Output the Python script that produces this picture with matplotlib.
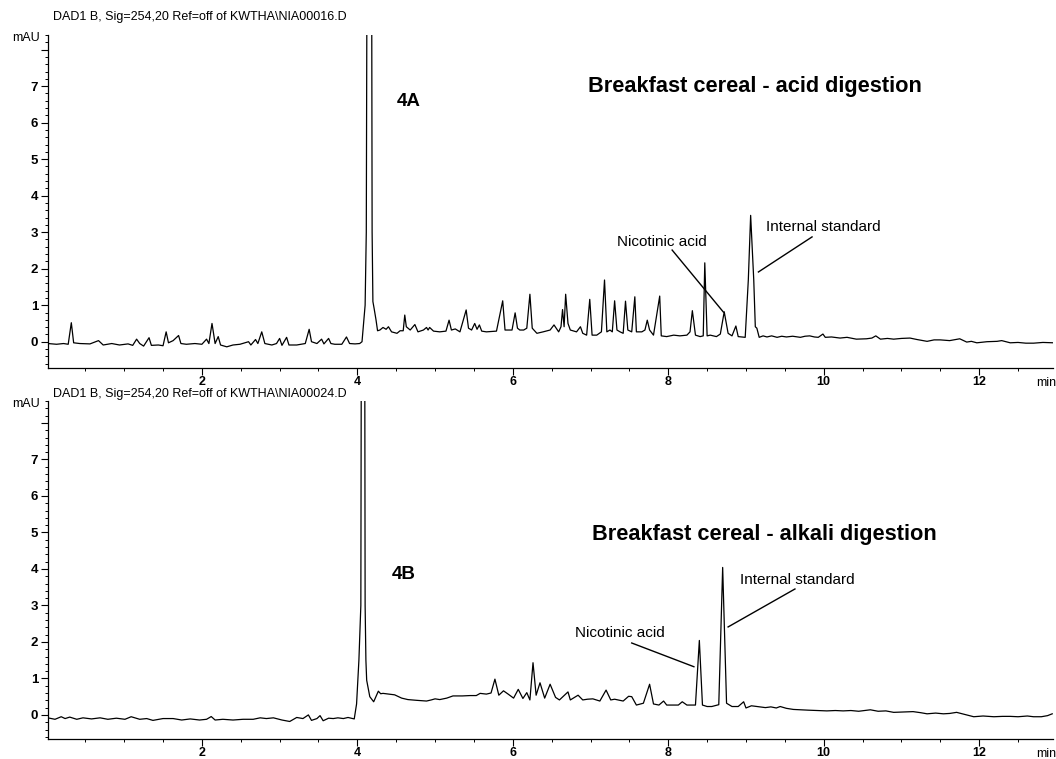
import matplotlib
matplotlib.use("Agg")
import matplotlib.pyplot as plt
from matplotlib.ticker import MultipleLocator

plt.rcParams['font.family'] = ['Liberation Sans', 'DejaVu Sans']

# Chromatogram 4A - acid digestion (time in min, signal in mAU)
acid_time = [
    0.02, 0.13, 0.22, 0.28, 0.32, 0.35, 0.43, 0.56, 0.67, 0.73, 0.84, 0.94, 1.05, 1.11,
    1.16, 1.20, 1.25, 1.32, 1.35, 1.44, 1.50, 1.54, 1.57, 1.63, 1.70, 1.73, 1.80, 1.91,
    2.00, 2.06, 2.09, 2.13, 2.17, 2.21, 2.24, 2.32, 2.40, 2.49, 2.60, 2.63, 2.69, 2.72,
    2.77, 2.81, 2.90, 2.96, 3.00, 3.03, 3.09, 3.12, 3.22, 3.33, 3.38, 3.41, 3.48, 3.54,
    3.57, 3.63, 3.66, 3.71, 3.80, 3.86, 3.90, 3.97, 4.03,
    4.06, 4.10, 4.115, 4.16, 4.19, 4.20, 4.215, 4.24, 4.26,
    4.29, 4.33, 4.37, 4.40, 4.44, 4.51, 4.55, 4.59, 4.61, 4.63, 4.68, 4.74, 4.78, 4.85,
    4.89, 4.91, 4.93, 4.98, 5.06, 5.14, 5.18, 5.21, 5.26, 5.32, 5.40, 5.43, 5.47, 5.51,
    5.54, 5.57, 5.60, 5.66, 5.79, 5.87, 5.90, 5.99, 6.03, 6.06, 6.09, 6.14, 6.18, 6.22,
    6.25, 6.31, 6.39, 6.48, 6.53, 6.59, 6.62, 6.64, 6.66, 6.68, 6.71, 6.74, 6.82, 6.87,
    6.90, 6.95, 6.99, 7.02, 7.08, 7.14, 7.18, 7.21, 7.25, 7.28, 7.31, 7.34, 7.38, 7.42,
    7.45, 7.48, 7.53, 7.57, 7.59, 7.66, 7.70, 7.73, 7.76, 7.81, 7.89, 7.91, 7.98, 8.07,
    8.15, 8.24, 8.28, 8.31, 8.35, 8.41, 8.45, 8.47, 8.50,
    8.54, 8.62, 8.67, 8.72, 8.77, 8.82, 8.87, 8.90, 8.99, 9.03, 9.06, 9.10, 9.12, 9.14,
    9.17, 9.22, 9.27, 9.33, 9.40, 9.46, 9.52, 9.60, 9.70, 9.76, 9.82, 9.88, 9.93, 9.99,
    10.02, 10.10, 10.21, 10.30, 10.42, 10.55, 10.62, 10.67, 10.73, 10.82, 10.90, 11.00,
    11.11, 11.20, 11.33, 11.42, 11.50, 11.62, 11.75, 11.84, 11.90, 11.97, 12.10, 12.23,
    12.29, 12.40, 12.50, 12.60, 12.70, 12.82, 12.96,
]
acid_mau = [
    -0.05, -0.07, -0.05, -0.07, 0.52, -0.03, -0.05, -0.06, 0.03, -0.09, -0.05, -0.09, -0.06, -0.10,
    0.07, -0.05, -0.12, 0.11, -0.10, -0.09, -0.11, 0.27, -0.03, 0.03, 0.17, -0.05, -0.07, -0.05,
    -0.07, 0.07, -0.05, 0.50, -0.05, 0.14, -0.09, -0.14, -0.09, -0.07, 0.00, -0.09, 0.06, -0.05,
    0.27, -0.05, -0.09, -0.05, 0.09, -0.10, 0.12, -0.09, -0.09, -0.05, 0.34, 0.00, -0.05, 0.07,
    -0.06, 0.09, -0.05, -0.07, -0.07, 0.13, -0.05, -0.06, -0.05,
    0.00, 1.00, 3.00, 40.0, 3.00, 1.10, 0.92, 0.60, 0.30,
    0.32, 0.39, 0.34, 0.41, 0.27, 0.23, 0.30, 0.30, 0.73, 0.41, 0.32, 0.47, 0.27, 0.32,
    0.39, 0.32, 0.39, 0.29, 0.27, 0.29, 0.59, 0.32, 0.35, 0.27, 0.87, 0.37, 0.32, 0.50,
    0.34, 0.46, 0.29, 0.27, 0.29, 1.12, 0.32, 0.32, 0.79, 0.37, 0.32, 0.32, 0.37, 1.30,
    0.37, 0.23, 0.27, 0.32, 0.46, 0.27, 0.41, 0.88, 0.41, 1.30, 0.50, 0.32, 0.27, 0.41,
    0.23, 0.18, 1.16, 0.18, 0.18, 0.27, 1.69, 0.27, 0.32, 0.27, 1.12, 0.32, 0.27, 0.23,
    1.11, 0.32, 0.27, 1.23, 0.27, 0.27, 0.32, 0.59, 0.32, 0.18, 1.25, 0.16, 0.14, 0.18,
    0.16, 0.18, 0.27, 0.85, 0.18, 0.14, 0.16, 2.16, 0.16,
    0.18, 0.14, 0.21, 0.82, 0.23, 0.16, 0.43, 0.14, 0.12, 1.69, 3.46, 1.69, 0.41, 0.37,
    0.12, 0.16, 0.13, 0.16, 0.12, 0.15, 0.13, 0.15, 0.12, 0.15, 0.16, 0.13, 0.12, 0.21,
    0.12, 0.13, 0.10, 0.12, 0.07, 0.08, 0.10, 0.16, 0.07, 0.09, 0.07, 0.09,
    0.10, 0.06, 0.01, 0.05, 0.05, 0.03, 0.08, -0.01, 0.01, -0.03, 0.00, 0.01,
    0.03, -0.03, -0.02, -0.04, -0.04, -0.02, -0.03,
]

# Chromatogram 4B - alkali digestion
alkali_time = [
    0.04, 0.11, 0.19, 0.24, 0.30, 0.39, 0.47, 0.58, 0.69, 0.79, 0.90, 1.01, 1.09, 1.20,
    1.29, 1.37, 1.50, 1.63, 1.74, 1.85, 1.97, 2.06, 2.12, 2.17, 2.27, 2.40, 2.53, 2.66,
    2.75, 2.83, 2.92, 3.03, 3.13, 3.22, 3.30, 3.37, 3.41, 3.48, 3.52, 3.56, 3.63, 3.69,
    3.75, 3.82, 3.88, 3.96,
    3.99, 4.02, 4.045, 4.075, 4.10, 4.11,
    4.12, 4.16, 4.21, 4.27, 4.30, 4.33, 4.40, 4.48, 4.53, 4.57, 4.65, 4.76, 4.89, 4.95,
    5.00, 5.06, 5.15, 5.23, 5.35, 5.45, 5.53, 5.58, 5.66, 5.72, 5.77, 5.82, 5.88, 5.94,
    6.01, 6.07, 6.13, 6.18, 6.22, 6.26, 6.30, 6.35, 6.41, 6.48, 6.55, 6.60, 6.71, 6.74,
    6.84, 6.90, 6.96, 7.03, 7.12, 7.20, 7.26, 7.31, 7.42, 7.49, 7.53, 7.59, 7.68, 7.76,
    7.81, 7.88, 7.94, 7.98, 8.13, 8.18, 8.24, 8.35, 8.40, 8.44, 8.50, 8.56, 8.65, 8.70,
    8.75, 8.82, 8.90, 8.97, 9.00, 9.07, 9.14, 9.20, 9.25, 9.32, 9.39, 9.44, 9.52, 9.61,
    9.70, 9.80, 9.92, 10.04, 10.15, 10.25, 10.35, 10.45, 10.52, 10.60, 10.70, 10.80,
    10.90, 11.02, 11.15, 11.25, 11.33, 11.44, 11.54, 11.62, 11.71, 11.80, 11.93, 12.05,
    12.19, 12.30, 12.40, 12.50, 12.62, 12.70, 12.80, 12.88, 12.94,
]
alkali_mau = [
    -0.09, -0.12, -0.05, -0.10, -0.06, -0.12, -0.08, -0.11, -0.08, -0.12, -0.09, -0.12, -0.05, -0.12,
    -0.10, -0.15, -0.10, -0.10, -0.14, -0.11, -0.14, -0.12, -0.045, -0.14, -0.12, -0.14, -0.12, -0.12,
    -0.08, -0.10, -0.08, -0.14, -0.18, -0.07, -0.10, 0.00, -0.15, -0.10, -0.02, -0.16, -0.09, -0.10,
    -0.08, -0.10, -0.07, -0.11,
    0.30, 1.50, 3.00, 40.0, 3.00, 1.50,
    0.95, 0.50, 0.36, 0.65, 0.58, 0.59, 0.57, 0.55, 0.50, 0.46, 0.42, 0.40, 0.38, 0.41,
    0.44, 0.42, 0.46, 0.52, 0.52, 0.53, 0.53, 0.59, 0.57, 0.60, 0.98, 0.54, 0.66, 0.57,
    0.46, 0.70, 0.45, 0.61, 0.41, 1.43, 0.54, 0.88, 0.46, 0.84, 0.48, 0.41, 0.63, 0.41,
    0.54, 0.41, 0.43, 0.44, 0.38, 0.68, 0.41, 0.43, 0.38, 0.51, 0.50, 0.27, 0.32, 0.84,
    0.30, 0.27, 0.38, 0.27, 0.27, 0.36, 0.27, 0.27, 2.04, 0.27, 0.23, 0.23, 0.28, 4.04,
    0.32, 0.23, 0.23, 0.36, 0.19, 0.25, 0.23, 0.21, 0.20, 0.22, 0.19, 0.23, 0.18, 0.15,
    0.14, 0.13, 0.12, 0.11, 0.12, 0.11, 0.12, 0.10, 0.12, 0.14, 0.10, 0.11,
    0.07, 0.08, 0.09, 0.06, 0.03, 0.05, 0.03, 0.04, 0.07, 0.02, -0.05, -0.03,
    -0.05, -0.04, -0.04, -0.05, -0.03, -0.05, -0.05, -0.02, 0.03,
]

headers = ["DAD1 B, Sig=254,20 Ref=off of KWTHA\\NIA00016.D",
           "DAD1 B, Sig=254,20 Ref=off of KWTHA\\NIA00024.D"]
panel_tags = ["4A", "4B"]
titles = ["Breakfast cereal - acid digestion", "Breakfast cereal - alkali digestion"]

fig = plt.figure(figsize=(10.56, 7.59), dpi=100)
ax1 = fig.add_axes([48 / 1056, 1 - 368 / 759, 1005 / 1056, 333 / 759])
ax2 = fig.add_axes([48 / 1056, 1 - 739 / 759, 1005 / 1056, 338 / 759])

ax1.plot(acid_time, acid_mau, color='black', lw=0.9)
ax2.plot(alkali_time, alkali_mau, color='black', lw=0.9)
ax1.set_ylim(-0.72, 8.40)
ax2.set_ylim(-0.66, 8.60)

for ax, head, hy in zip([ax1, ax2], headers, [1.054, 1.02]):
    ax.set_xlim(0.02, 12.95)
    for s in ['top', 'right']:
        ax.spines[s].set_visible(False)
    ax.spines['left'].set_linewidth(0.9)
    ax.spines['bottom'].set_linewidth(0.9)
    ax.set_xticks([2, 4, 6, 8, 10, 12])
    ax.xaxis.set_minor_locator(MultipleLocator(0.5))
    ax.set_yticks(range(0, 9))
    ax.set_yticklabels([str(i) for i in range(8)] + [''])
    ax.yaxis.set_minor_locator(MultipleLocator(0.2))
    ax.tick_params(which='major', length=5, width=0.8, pad=2)
    ax.tick_params(which='minor', length=2.5, width=0.7)
    ax.tick_params(axis='y', labelsize=9.5)
    ax.tick_params(axis='x', labelsize=9, pad=1)
    for lab in ax.get_xticklabels() + ax.get_yticklabels():
        lab.set_fontweight('bold')
    ax.text(-0.008, 0.99, 'mAU', transform=ax.transAxes, ha='right', va='center', fontsize=9)
    ax.text(1.003, -0.045, 'min', transform=ax.transAxes, ha='right', va='center', fontsize=9)
    ax.text(0.005, hy, head, transform=ax.transAxes, ha='left', va='center', fontsize=9)

# Panel tags and titles
ax1.text(4.66, 6.57, panel_tags[0], fontsize=13.5, fontweight='bold', ha='center', va='center')
ax1.text(6.97, 6.98, titles[0], fontsize=15.7, fontweight='bold', ha='left', va='center')
ax2.text(4.60, 3.86, panel_tags[1], fontsize=13.5, fontweight='bold', ha='center', va='center')
ax2.text(7.02, 4.93, titles[1], fontsize=15.7, fontweight='bold', ha='left', va='center')

# Peak labels with leader lines
ax1.text(7.34, 2.73, 'Nicotinic acid', fontsize=11, ha='left', va='center')
ax1.plot([8.05, 8.71], [2.51, 0.81], color='black', lw=1.0)
ax1.text(9.26, 3.14, 'Internal standard', fontsize=11, ha='left', va='center')
ax1.plot([9.85, 9.16], [2.87, 1.91], color='black', lw=1.0)

ax2.text(6.80, 2.25, 'Nicotinic acid', fontsize=11, ha='left', va='center')
ax2.plot([7.53, 8.33], [1.97, 1.32], color='black', lw=1.0)
ax2.text(8.92, 3.70, 'Internal standard', fontsize=11, ha='left', va='center')
ax2.plot([9.63, 8.77], [3.45, 2.41], color='black', lw=1.0)

fig.savefig('out.png', dpi=100)
